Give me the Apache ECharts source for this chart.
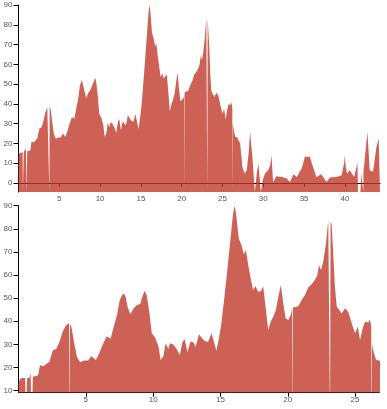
<!DOCTYPE html>
<html>
<head>
<meta charset="utf-8">
<script src="https://cdn.jsdelivr.net/npm/echarts@6/dist/echarts.min.js"></script>
<style>
html,body{margin:0;padding:0;background:#fff;}
#chart{width:387px;height:409px;}
</style>
</head>
<body>
<div id="chart"></div>
<script>
// Shared series (same data shown in overview and zoomed view)
const xValues = [
  0.0, 0.1, 0.3, 0.5, 0.52, 0.54, 0.62, 0.64, 0.8, 0.9, 0.96, 0.98, 1.05, 1.07,
  1.2, 1.45, 1.6, 1.7, 1.85, 2.05, 2.3, 2.55, 2.8, 3.04, 3.28, 3.53, 3.75,
  3.78, 3.8, 3.82, 3.84, 3.95, 4.14, 4.34, 4.58, 4.88, 5.17, 5.42, 5.74, 5.98,
  6.23, 6.54, 6.84, 7.08, 7.33, 7.52, 7.77, 7.94, 8.1, 8.3, 8.55, 8.8, 9.04,
  9.24, 9.39, 9.53, 9.73, 9.9, 10.15, 10.4, 10.56, 10.76, 10.93, 11.13, 11.25,
  11.5, 11.74, 11.99, 12.18, 12.35, 12.55, 12.77, 12.97, 13.16, 13.41, 13.59,
  13.83, 14.08, 14.33, 14.5, 14.7, 14.9, 15.07, 15.27, 15.5, 15.74, 15.94,
  16.07, 16.19, 16.36, 16.56, 16.74, 16.89, 17.06, 17.23, 17.43, 17.6, 17.8,
  18.0, 18.18, 18.35, 18.55, 18.75, 18.92, 19.12, 19.3, 19.49, 19.66, 19.84,
  20.04, 20.24, 20.33, 20.35, 20.37, 20.39, 20.53, 20.78, 21.03, 21.28, 21.53,
  21.77, 22.02, 22.2, 22.32, 22.47, 22.64, 22.84, 23.01, 23.12, 23.14, 23.16,
  23.18, 23.26, 23.39, 23.5, 23.64, 23.83, 24.0, 24.26, 24.5, 24.75, 25.0,
  25.2, 25.37, 25.57, 25.74, 25.99, 26.1, 26.2, 26.22, 26.24, 26.26, 26.41,
  26.56, 26.81, 26.95, 27.16, 27.44, 27.69, 27.97, 28.2, 28.38, 28.55, 28.67,
  28.85, 28.97, 29.1, 29.2, 29.4, 29.6, 29.7, 29.76, 29.93, 30.2, 30.6, 30.85,
  31.0, 31.2, 31.6, 32.25, 32.86, 33.27, 33.7, 34.1, 34.7, 35.1, 35.7, 36.1,
  36.5, 37.1, 37.75, 38.16, 38.97, 39.6, 39.9, 40.0, 40.1, 40.27, 40.6, 41.13,
  41.54, 41.6, 41.9, 42.0, 42.15, 42.22, 42.25, 42.28, 42.5, 42.76, 43.04,
  43.45, 43.86, 44.14, 44.3
];
const yValues = [
  13, 15, 15.5, 15.5, 15.5, -4.6, -4.6, 15.5, 15.5, 17.5, 17.5, -4.6, -4.6, 16,
  16, 16.5, 21, 21.5, 20.5, 21.5, 22.5, 27.5, 28, 31, 35.5, 38.3, 39.2,
  -4.6, -4.6, 39, 38.5, 37, 30.5, 24.7, 22.3, 23, 23, 25, 23.3, 26,
  29.5, 33.4, 32.5, 37.7, 43, 49.2, 52, 51, 46.3, 43, 45.5, 47, 47.5,
  51.4, 53.2, 51, 43.4, 34.8, 33, 29, 23.3, 25, 30.5, 28, 30.5,
  30, 28, 25.4, 31, 32.2, 26.6, 31.2, 31, 29, 34.4, 33,
  31.5, 31, 34.8, 31.5, 27.3, 33, 39.1, 49.2, 61.5, 75.2, 86.7,
  90, 85, 75.9, 73, 69, 70.8, 64.3, 59, 53.5, 55.3, 52.8,
  53, 55, 46.3, 36.2, 40, 42, 45, 50.6, 55.7, 48, 41.3,
  40.6, 43, 46, -4.6, -4.6, 46, 45.5, 46.5, 49.2, 51.4, 54.7,
  56, 57.9, 60, 64.3, 62.2, 66, 73.7, 83.8, 84.5, -4.6, -4.6,
  83, 82, 68, 55, 46.3, 44.9, 43.4, 45.6, 44, 39.1, 34.8,
  37.7, 31.9, 37, 39.8, 39.5, 40.8, 38, -4.6, -4.6, 30, 26.1,
  23.3, 23, 21.6, 20, 8, 4.7, 6.4, 15, 25.8, 18, 13,
  2, -4.6, -4.6, 5, 9.8, 9.8, -4.6, -4.6, 1.4, 4.7, 6.4, 9,
  14, 0.5, 3.4, 3, 2.2, 0.5, 4.4, 3, 7.3, 13.2, 13.2, 8.1,
  3, 4.4, 0.5, 2.7, 3, 3.9, 10, 14, 8, 4.7, 6.4, 3,
  10, -4.6, -4.6, 5, 4.7, 5, -4.6, 6, 15, 25.8, 6.4,
  5.6, 18, 22.5, 22
];
const topYRange = [-4.6, 90];
const bottomYRange = [9.1, 90];
const topXRange = [0, 44.3];
const bottomXRange = [0, 26.8];

const points = xValues.map((x, i) => [x, yValues[i]]);

const fill = 'rgba(192,57,43,0.8)';
const labelStyle = { color: '#555', fontSize: 8, fontFamily: 'sans-serif' };

function xAxis(grid, range) {
  return {
    type: 'value', gridIndex: grid, min: range[0], max: range[1], interval: 5,
    axisLine: { show: true, lineStyle: { color: '#000', width: 1 } },
    axisTick: { show: true, length: 4, lineStyle: { color: '#000' } },
    axisLabel: Object.assign({ margin: 3, showMinLabel: false, showMaxLabel: false }, labelStyle),
    splitLine: { show: false }
  };
}
function yAxis(grid, range) {
  return {
    type: 'value', gridIndex: grid, min: range[0], max: range[1],
    splitNumber: 10, minInterval: 10, maxInterval: 10,
    axisLine: { show: true, lineStyle: { color: '#000', width: 1 } },
    axisTick: { show: true, length: 5, lineStyle: { color: '#000' } },
    axisLabel: Object.assign({ margin: 6, showMinLabel: false, showMaxLabel: true }, labelStyle),
    splitLine: { show: false }
  };
}

const chart = echarts.init(document.getElementById('chart'), null, { renderer: 'canvas' });
chart.setOption({
  animation: false,
  backgroundColor: '#fff',
  grid: [
    { left: 18.5, top: 5, right: 7, height: 187 },
    { left: 18.5, top: 205.7, right: 7.7, height: 187 }
  ],
  xAxis: [xAxis(0, topXRange), xAxis(1, bottomXRange)],
  yAxis: [yAxis(0, topYRange), yAxis(1, bottomYRange)],
  series: [
    {
      type: 'line', xAxisIndex: 0, yAxisIndex: 0, data: points,
      showSymbol: false, symbol: 'none', clip: true,
      lineStyle: { width: 0 },
      areaStyle: { color: fill, opacity: 1, origin: 'start' }
    },
    {
      type: 'line', xAxisIndex: 1, yAxisIndex: 1, data: points,
      showSymbol: false, symbol: 'none', clip: true,
      lineStyle: { width: 0 },
      areaStyle: { color: fill, opacity: 1, origin: 'start' }
    }
  ]
});
</script>
</body>
</html>
